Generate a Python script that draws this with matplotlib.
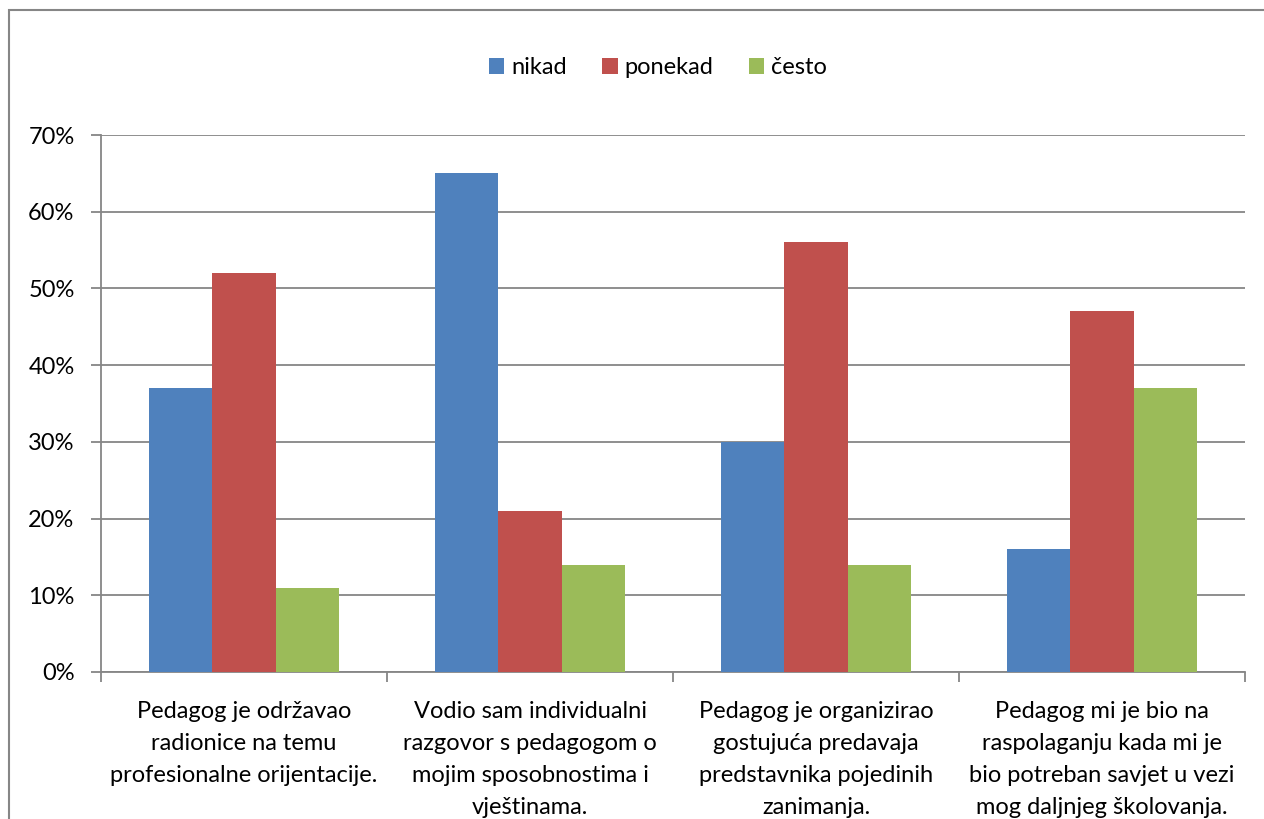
import matplotlib.pyplot as plt
import numpy as np
from matplotlib.patches import Rectangle

plt.rcParams['font.family'] = ['Lato', 'DejaVu Sans']

categories = [
    "Pedagog je održavao\nradionice na temu\nprofesionalne orijentacije.",
    "Vodio sam individualni\nrazgovor s pedagogom o\nmojim sposobnostima i\nvještinama.",
    "Pedagog je organizirao\ngostujuća predavaja\npredstavnika pojedinih\nzanimanja.",
    "Pedagog mi je bio na\nraspolaganju kada mi je\nbio potreban savjet u vezi\nmog daljnjeg školovanja.",
]
series_names = ["nikad", "ponekad", "često"]
nikad = [0.37, 0.65, 0.30, 0.16]
ponekad = [0.52, 0.21, 0.56, 0.47]
cesto = [0.11, 0.14, 0.14, 0.37]
y_ticks = [0.0, 0.1, 0.2, 0.3, 0.4, 0.5, 0.6, 0.7]

colors = ["#4F81BD", "#C0504D", "#9BBB59"]
axis_color = "#868686"
fs = 17

fig = plt.figure(figsize=(12.64, 8.19), dpi=100)
fig.patches.append(Rectangle((9 / 1264, -0.1), 1.2, 1.1 - 10 / 819,
                             transform=fig.transFigure, fill=False,
                             edgecolor=axis_color, linewidth=1.5))
ax = fig.add_axes([101 / 1264, 1 - 672 / 819, 1144 / 1264, 537 / 819])

x = np.arange(len(categories))
width = 0.222
for i, (name, vals) in enumerate(zip(series_names, [nikad, ponekad, cesto])):
    ax.bar(x + (i - 1) * width, vals, width, color=colors[i], label=name, zorder=3)

ax.set_xlim(-0.5, len(categories) - 0.5)
ax.set_ylim(0, 0.7)
ax.set_yticks(y_ticks)
ax.set_yticklabels(["%d%%" % round(v * 100) for v in y_ticks], fontsize=fs)
ax.yaxis.grid(True, color=axis_color, linewidth=1.3, zorder=0)

ax.set_xticks(x)
ax.set_xticklabels(categories, fontsize=fs, linespacing=1.65, va='top')
ax.tick_params(axis='x', length=0, pad=21)
ax.set_xticks(np.arange(-0.5, len(categories)), minor=True)
ax.tick_params(axis='x', which='minor', length=7, color=axis_color, width=1.3)
ax.tick_params(axis='y', length=7, color=axis_color, width=1.3, pad=12)

for side in ['top', 'right']:
    ax.spines[side].set_visible(False)
for side in ['left', 'bottom']:
    ax.spines[side].set_color(axis_color)
    ax.spines[side].set_linewidth(1.3)

fig.legend(loc='center', bbox_to_anchor=(658 / 1264, 1 - 68 / 819), ncol=3,
           frameon=False, fontsize=fs, handlelength=0.65, handleheight=0.65,
           handletextpad=0.3, columnspacing=1.5)

plt.savefig("out.png", dpi=100)
